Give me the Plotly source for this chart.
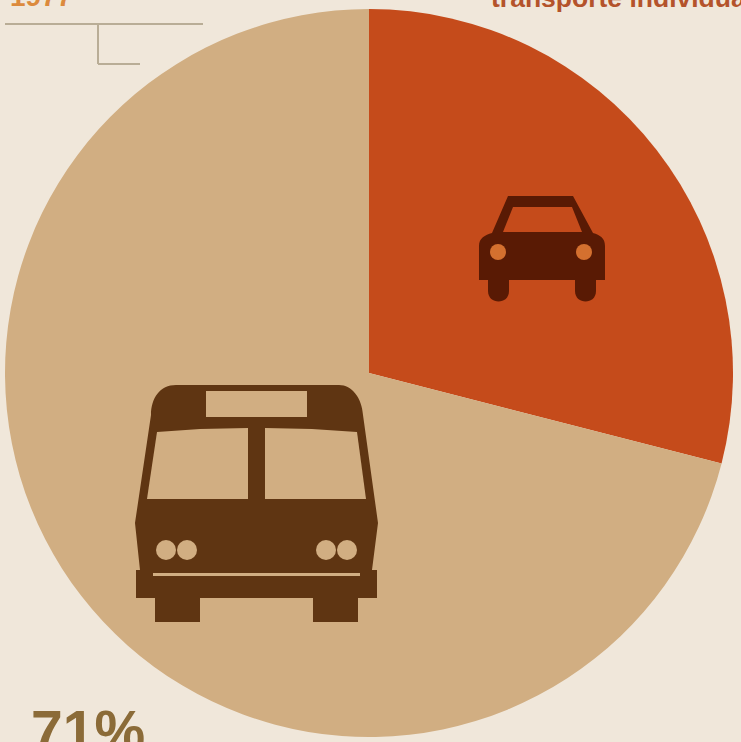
import plotly.graph_objects as go

W, H = 741, 742

# Modal split shown by the pie
modes = ["transporte individual", "transporte coletivo"]
shares = [29, 71]
slice_colors = ["#c54b1b", "#d1ae82"]
year_label = "1977"

PAPER = "#f0e7da"
BUS = "#5f3512"
CAR = "#591a04"


def px(x, y):
    """Page pixel position to paper coordinates."""
    return x / W, 1 - y / H


def poly(points, fill):
    parts = []
    for i, (x, y) in enumerate(points):
        u, v = px(x, y)
        parts.append(f"{'M' if i == 0 else 'L'}{u:.5f},{v:.5f}")
    return dict(type="path", xref="paper", yref="paper", path=" ".join(parts) + " Z",
                fillcolor=fill, line=dict(width=0), layer="above")


def curve(cmds, fill):
    """Path from (letter, x, y, ...) tuples given in page pixels."""
    parts = []
    for c in cmds:
        coords = []
        for i in range(1, len(c), 2):
            u, v = px(c[i], c[i + 1])
            coords.append(f"{u:.5f},{v:.5f}")
        parts.append(c[0] + " ".join(coords))
    return dict(type="path", xref="paper", yref="paper", path=" ".join(parts) + " Z",
                fillcolor=fill, line=dict(width=0), layer="above")


def rect(x0, y0, x1, y1, fill):
    return poly([(x0, y0), (x1, y0), (x1, y1), (x0, y1)], fill)


def circle(cx, cy, r, fill):
    u0, v0 = px(cx - r, cy - r)
    u1, v1 = px(cx + r, cy + r)
    return dict(type="circle", xref="paper", yref="paper", x0=u0, y0=v0, x1=u1, y1=v1,
                fillcolor=fill, line=dict(width=0), layer="above")


def rule(x0, y0, x1, y1):
    u0, v0 = px(x0, y0)
    u1, v1 = px(x1, y1)
    return dict(type="line", xref="paper", yref="paper", x0=u0, y0=v0, x1=u1, y1=v1,
                line=dict(color="#b9ad96", width=2), layer="above")


shapes = [rule(5, 24, 203, 24), rule(98, 24, 98, 64), rule(98, 64, 140, 64)]

# Bus pictogram
bus_fill = slice_colors[1]
shapes += [
    curve([("M", 151, 415), ("C", 151, 398, 160, 385, 176, 385), ("L", 339, 385),
           ("C", 352, 385, 362, 398, 363, 415), ("L", 378, 523), ("L", 372, 570),
           ("L", 377, 570), ("L", 377, 598), ("L", 358, 598), ("L", 358, 622),
           ("L", 313, 622), ("L", 313, 598), ("L", 200, 598), ("L", 200, 622),
           ("L", 155, 622), ("L", 155, 598), ("L", 136, 598), ("L", 136, 570),
           ("L", 140, 570), ("L", 135, 523)], BUS),
    rect(206, 391, 307, 417, bus_fill),
    poly([(157, 432), (200, 429), (248, 428), (248, 499), (147, 499)], bus_fill),
    poly([(265, 428), (312, 429), (357, 432), (366, 499), (265, 499)], bus_fill),
    rect(153, 573, 360, 576, bus_fill),
]
for cx in (166, 187, 326, 347):
    shapes.append(circle(cx, 550, 10, bus_fill))

# Car pictogram
car_fill = slice_colors[0]
shapes += [
    curve([("M", 508, 196), ("L", 573, 196), ("L", 593, 233),
           ("C", 600, 235, 605, 238, 605, 246), ("L", 605, 280),
           ("L", 479, 280), ("L", 479, 246), ("C", 479, 238, 485, 235, 492, 233)], CAR),
    poly([(513, 207), (572, 207), (582, 232), (503, 232)], car_fill),
    curve([("M", 488, 280), ("L", 509, 280), ("L", 509, 291),
           ("C", 509, 305, 488, 305, 488, 291)], CAR),
    curve([("M", 575, 280), ("L", 596, 280), ("L", 596, 291),
           ("C", 596, 305, 575, 305, 575, 291)], CAR),
    circle(498, 252, 8, "#d4702f"),
    circle(584, 252, 8, "#d4702f"),
]

fig = go.Figure(go.Pie(
    labels=modes,
    values=shares,
    sort=False,
    direction="clockwise",
    rotation=0,
    marker=dict(colors=slice_colors, line=dict(width=0)),
    textinfo="none",
    hoverinfo="label+percent",
    showlegend=False,
    domain=dict(x=[5 / W, 733 / W], y=[1 - 737 / H, 1 - 9 / H]),
))


def label(text, x, top, size, color):
    u, v = px(x, top)
    return dict(text=text, xref="paper", yref="paper", x=u, y=v, xanchor="left", yanchor="top",
                showarrow=False, align="left", borderpad=0,
                font=dict(family="Liberation Sans", size=size, color=color, weight="bold"))


fig.update_layout(
    width=W, height=H,
    margin=dict(l=0, r=0, t=0, b=0),
    paper_bgcolor=PAPER,
    plot_bgcolor=PAPER,
    shapes=shapes,
    annotations=[
        label(year_label, 9, -20, 28, "#dc8a3c"),
        label(modes[0], 490, -18, 26.5, "#b4532b"),
        label(f"{shares[1]}%", 30, 698, 57, "#8b6b38"),
    ],
)

fig.write_html("out.html", config=dict(displayModeBar=False))
